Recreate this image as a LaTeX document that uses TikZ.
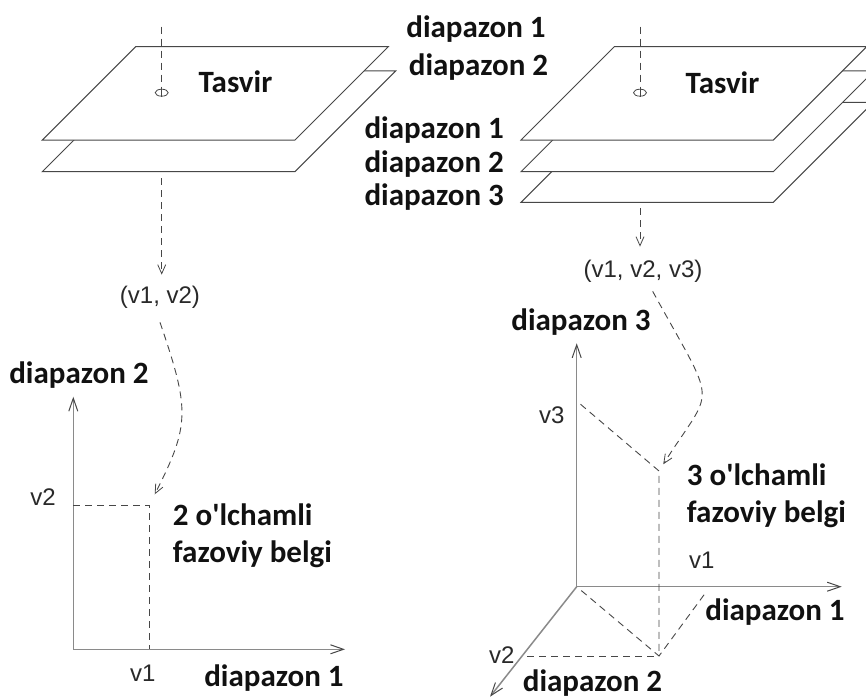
\documentclass[tikz,border=0pt]{standalone}
\usepackage{fontspec}
\setmainfont{Carlito}
\newfontfamily\arialfont{Liberation Sans}
\usetikzlibrary{positioning,arrows.meta,shapes.geometric,calc}
\definecolor{ink}{HTML}{111111}
\definecolor{trazo}{HTML}{474747}
\definecolor{gris}{HTML}{8A8A8A}
\tikzset{
  plano/.style={draw=trazo,fill=white,line width=1pt,line join=miter},
  eje/.style={draw=gris,line width=1.5pt,-{Straight Barb[length=13pt,width=9pt,line width=1pt,color=trazo]}},
  guia/.style={draw=trazo,line width=0.9pt,dash pattern=on 7pt off 5pt},
  flechad/.style={guia,-{Straight Barb[length=9pt,width=8pt,line width=0.8pt]}},
  punto/.style={ellipse,draw=trazo,line width=0.8pt,minimum width=13pt,minimum height=7pt,inner sep=0pt},
  rotulo/.style={font=\bfseries\fontsize{31}{37}\selectfont,text=ink,inner sep=0pt},
  valor/.style={font=\arialfont\fontsize{24}{28}\selectfont,text=ink!90,inner sep=0pt},
}
\begin{document}
\begin{tikzpicture}[x=1pt,y=-1pt]
  \useasboundingbox (0,0) rectangle (866,698);
  \clip (0,0) rectangle (866,698);
  \draw[plano] (42.3,171.7) -- ++(252.7,0) -- ++(100.7,-100.7) -- ++(-252.7,0) -- cycle;
  \draw[plano] (42.3,140) -- ++(252.7,0) -- ++(93.3,-93.3) -- ++(-252.7,0) -- cycle;
  \draw[plano] (521,202.3) -- ++(252.3,0) -- ++(100,-100) -- ++(-252.3,0) -- cycle;
  \draw[plano] (521,171.7) -- ++(252.3,0) -- ++(100.7,-100.7) -- ++(-252.3,0) -- cycle;
  \draw[plano] (521,140) -- ++(252.3,0) -- ++(93.3,-93.3) -- ++(-252.3,0) -- cycle;

  \node[rotulo] (img1) at (235.5,82) {Tasvir};
  \node[rotulo] (img2) at (722.5,83) {Tasvir};
  \node[rotulo] (b1a) at (476,29) {diapazon 1};
  \node[rotulo] (b1b) at (478.5,67) {diapazon 2};
  \node[rotulo,anchor=east] (b2a) at (504,130) {diapazon 1};
  \node[rotulo,anchor=east] (b2b) at (504,164) {diapazon 2};
  \node[rotulo,anchor=east] (b2c) at (504,197) {diapazon 3};

  \node[punto] (px1) at (161.7,92.7) {};
  \node[punto] (px2) at (640,92.7) {};
  \coordinate (entra1) at (161.7,26.7);
  \coordinate (entra2) at (640,26.7);
  \draw[guia] (entra1) -- (px1.center);
  \draw[guia] (entra2) -- (px2.center);
  \draw[trazo,line width=0.8pt] (px1.north) -- (px1.south);
  \draw[trazo,line width=0.8pt] (px2.north) -- (px2.south);

  \node[valor] (vec1) at (160,297) {(v1, v2)};
  \node[valor] (vec2) at (643,271) {(v1, v2, v3)};
  \coordinate (sale1) at (161.7,178);
  \coordinate (sale2) at (640,208);
  \draw[flechad] (sale1) -- ([yshift=11pt]vec1.north -| sale1);
  \draw[flechad] (sale2) -- ([yshift=13pt]vec2.north -| sale2);

  % espacio 2D
  \coordinate (o2) at (73.3,649.3);
  \coordinate (e2x) at (345,649.3);
  \coordinate (e2y) at (73.3,396.7);
  \coordinate (p2) at (149.3,505);
  \draw[eje] (o2) -- (e2y);
  \draw[eje] (o2) -- (e2x);
  \draw[guia] (o2 |- p2) -- (p2) -- (p2 |- o2);
  \draw[flechad,shorten >=12pt] ([yshift=-14pt]vec1.south) .. controls (190,410) and (190,425) .. (p2);
  \node[rotulo] (d2y) at (79,375) {diapazon 2};
  \node[rotulo] (d2x) at (274,678) {diapazon 1};
  \node[valor] (v2a) at (43,497) {v2};
  \node[valor] (v1a) at (142.7,673) {v1};
  \node[rotulo,anchor=north west,align=left] (sig2) at (172.7,504) {2 o\textquotesingle lchamli\\fazoviy belgi};

  % espacio 3D
  \coordinate (o3) at (576.7,586.7);
  \coordinate (e3x) at (841.7,586.7);
  \coordinate (e3y) at (490,696.7);
  \coordinate (e3z) at (576.7,343.3);
  \coordinate (x3) at (710,586.7);
  \coordinate (y3) at (523,656);
  \coordinate (z3) at (576.7,401);
  \coordinate (pb) at (659,656);
  \coordinate (p3) at (659,471);
  \draw[eje] (o3) -- (e3z);
  \draw[eje] (o3) -- (e3x);
  \draw[eje] (o3) -- (e3y);
  \draw[guia,shorten <=5pt] (z3) -- (p3) -- (pb);
  \draw[guia,shorten <=6pt] (o3) -- (pb);
  \draw[guia,shorten <=4pt] (y3) -- (pb);
  \draw[guia,shorten <=10pt] (x3) -- (pb);
  \draw[flechad,shorten >=8pt] ([yshift=-9pt]vec2.south -| 652.7,0) .. controls (718.7,411.7) and (714.8,383) .. (p3);
  \node[rotulo] (d3z) at (581,322) {diapazon 3};
  \node[rotulo] (d3x) at (775,612) {diapazon 1};
  \node[rotulo] (d3y) at (592.5,683) {diapazon 2};
  \node[valor] (v3b) at (551.7,415) {v3};
  \node[valor] (v2b) at (501.7,655) {v2};
  \node[valor] (v1b) at (701.7,560) {v1};
  \node[rotulo,anchor=north west,align=left] (sig3) at (686.7,464) {3 o\textquotesingle lchamli\\fazoviy belgi};
\end{tikzpicture}
\end{document}
